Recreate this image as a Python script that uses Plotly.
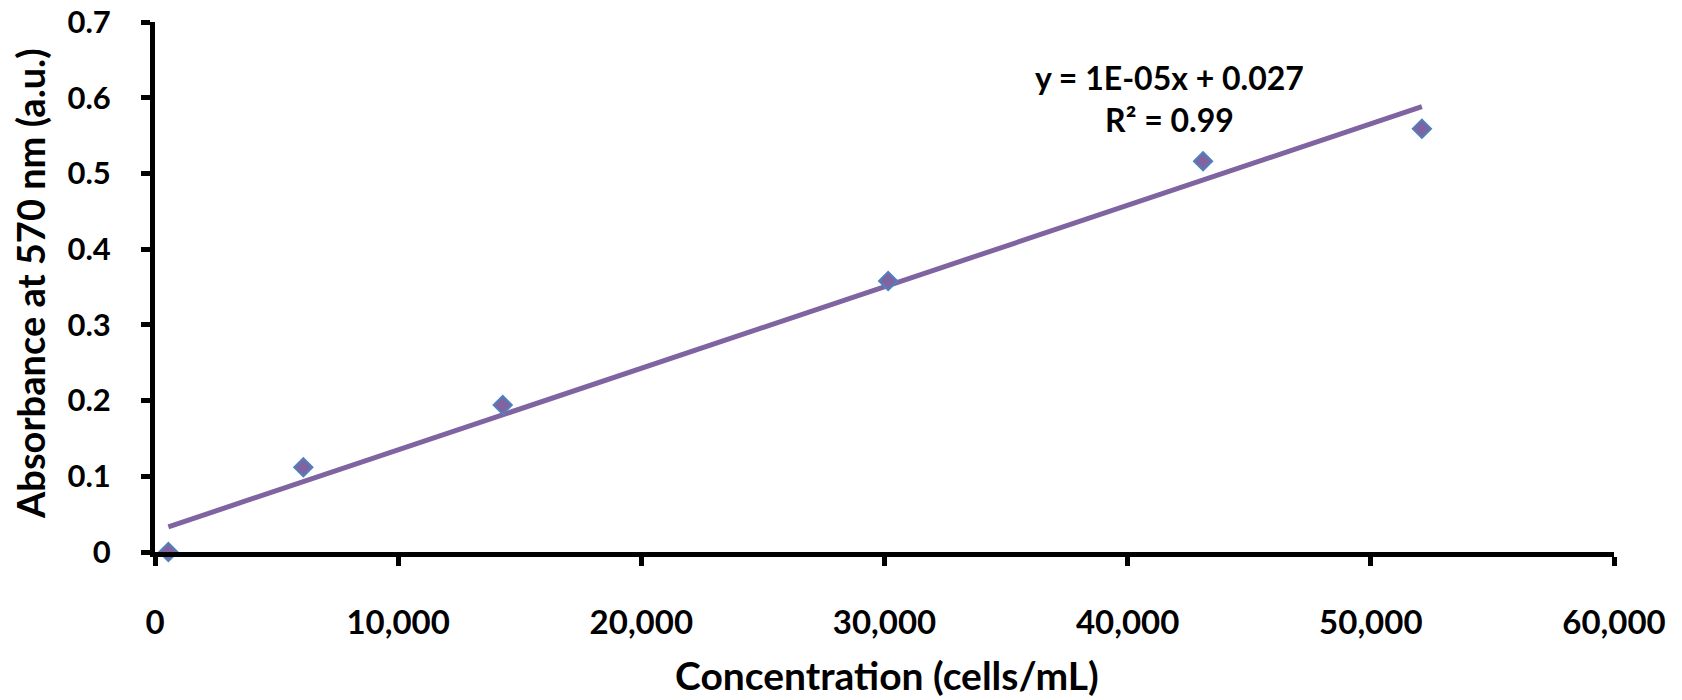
import numpy as np
import plotly.graph_objects as go

concentration = [550, 6100, 14300, 30150, 43100, 52100]
absorbance = [0.0, 0.112, 0.194, 0.358, 0.516, 0.559]
x_ticks = [0, 10000, 20000, 30000, 40000, 50000, 60000]
x_tick_labels = ["0", "10,000", "20,000", "30,000", "40,000", "50,000", "60,000"]
y_ticks = [0, 0.1, 0.2, 0.3, 0.4, 0.5, 0.6, 0.7]
y_tick_labels = ["0", "0.1", "0.2", "0.3", "0.4", "0.5", "0.6", "0.7"]

slope, intercept = np.polyfit(concentration, absorbance, 1)
fit_x = [min(concentration), max(concentration)]
fit_y = [slope * v + intercept for v in fit_x]

FONT = "Lato"
W, H = 1682, 700
OFF = 0  # page body margin removed via post_script
# plot area in screen pixels
PX0, PX1, PY0, PY1 = 155, 1614, 22, 552
ML, MR = PX0 - OFF, W - (PX1 - OFF)
MT, MB = PY0 - OFF, H - (PY1 - OFF)


def px(x):
    return (x - PX0) / (PX1 - PX0)


def py(y):
    return (PY1 - y) / (PY1 - PY0)


fig = go.Figure()
fig.add_trace(go.Scatter(
    x=fit_x, y=fit_y, mode="lines",
    line=dict(color="#8064A2", width=5),
    showlegend=False, hoverinfo="skip"))
fig.add_trace(go.Scatter(
    x=concentration, y=absorbance, mode="markers",
    marker=dict(symbol="diamond", size=14, color="#8064A2",
                line=dict(color="#4F81BD", width=2)),
    showlegend=False, cliponaxis=False))

fig.add_annotation(
    x=px(1169), y=py(99), xref="paper", yref="paper",
    text="y = 1E-05x + 0.027<br>R² = 0.99",
    showarrow=False, font=dict(family=FONT, size=32, color="black", weight="bold"),
    align="center", xanchor="center", yanchor="middle")

fig.add_annotation(
    x=px(887), y=py(675), xref="paper", yref="paper",
    text="Concentration (cells/mL)",
    showarrow=False, xanchor="center", yanchor="middle",
    font=dict(family=FONT, size=39, color="black", weight="bold"))
fig.add_annotation(
    x=px(30), y=py(284), xref="paper", yref="paper",
    text="Absorbance at 570 nm (a.u.)",
    showarrow=False, xanchor="center", yanchor="middle", textangle=-90,
    font=dict(family=FONT, size=38, color="black", weight="bold"))

fig.update_layout(
    width=W, height=H,
    margin=dict(l=ML, r=MR, t=MT, b=MB, autoexpand=False),
    paper_bgcolor="white", plot_bgcolor="white",
    font=dict(family=FONT, color="black", weight="bold"),
)
fig.update_xaxes(
    range=[0, 60000], tickvals=x_ticks, ticktext=x_tick_labels,
    showline=True, linecolor="black", linewidth=5,
    ticks="outside", ticklen=9, tickwidth=5, tickcolor="black",
    showgrid=False, zeroline=False, automargin=False,
    tickfont=dict(family=FONT, size=33, color="black", weight="bold"),
    ticklabelstandoff=28, ticklabeloverflow="allow",
)
fig.update_yaxes(
    range=[0, 0.7], tickvals=y_ticks, ticktext=y_tick_labels,
    showline=True, linecolor="black", linewidth=5,
    ticks="outside", ticklen=9, tickwidth=5, tickcolor="black",
    showgrid=False, zeroline=False, automargin=False,
    tickfont=dict(family=FONT, size=31, color="black", weight="bold"),
    ticklabelstandoff=24, ticklabeloverflow="allow",
)
fig.write_html("out.html", config={"displayModeBar": False},
               post_script="document.body.style.margin='0';document.body.style.overflow='hidden';")
